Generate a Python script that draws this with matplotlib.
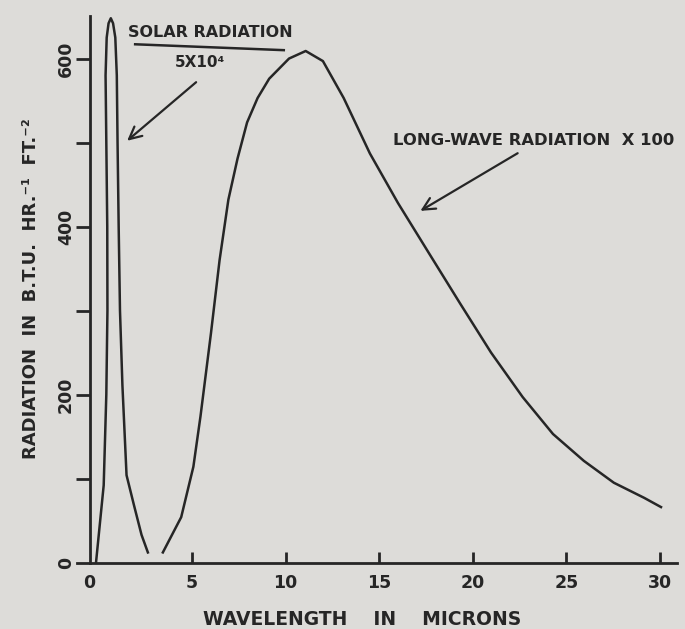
import numpy as np
import matplotlib
matplotlib.use("Agg")
import matplotlib.pyplot as plt
from matplotlib.transforms import ScaledTranslation

# values
solar_x = [-0.13, 0.28, 0.42, 0.48, 0.47, 0.42, 0.38, 0.44, 0.54, 0.66, 0.78, 0.90,
           0.98, 1.02, 1.08, 1.15, 1.28, 1.50, 1.90, 2.30, 2.64]
solar_y = [0, 92, 200, 300, 400, 500, 580, 625, 642, 648, 642, 625,
           580, 500, 400, 300, 211, 104, 68, 33, 12]

long_x = [3.44, 4.42, 5.07, 5.45, 6.01, 6.47, 6.94, 7.43, 7.94, 8.5, 9.12, 10.18, 11.07,
          11.99, 13.1, 14.5, 16.0, 17.69, 19.33, 20.97, 22.66, 24.28, 25.93, 27.53,
          29.15, 30.05]
long_y = [12, 54, 114, 174, 273, 360, 432, 481, 524, 553, 576, 600, 609,
          597, 553, 487, 428, 367, 308, 250, 197, 153, 121, 95, 77, 66]

x_ticks = [0, 5, 10, 15, 20, 25, 30]
y_ticks = [0, 100, 200, 300, 400, 500, 600]
y_labels = ['0', '', '200', '', '400', '', '600']

paper = '#dddcd9'
ink = '#262626'

fig = plt.figure(figsize=(6.85, 6.29), dpi=100)
fig.patch.set_facecolor(paper)
ax = fig.add_axes([0.1123, 0.1057, 0.8759, 0.8693])
ax.set_facecolor('none')

ax.plot(solar_x, solar_y, color=ink, lw=1.8, solid_joinstyle='round')
ax.plot(long_x, long_y, color=ink, lw=1.8, solid_joinstyle='round')

ax.set_xlim(-1.15, 30.9)
ax.set_ylim(0, 651)

for s in ['top', 'right']:
    ax.spines[s].set_visible(False)
ax.spines['left'].set_position(('data', -0.45))
for s in ['left', 'bottom']:
    ax.spines[s].set_linewidth(2)
    ax.spines[s].set_color(ink)

font = dict(family='DejaVu Sans', weight='bold', color=ink)

ax.set_xticks(x_ticks)
ax.set_xticklabels([str(t) for t in x_ticks], fontdict=font, fontsize=12.5)
ax.tick_params(axis='x', direction='in', length=8, width=2, color=ink, pad=8)
ax.xaxis.get_major_ticks()[0].tick1line.set_visible(False)
lbl0 = ax.get_xticklabels()[0]
lbl0.set_transform(lbl0.get_transform() + ScaledTranslation(-9 / 100, 0, fig.dpi_scale_trans))

ax.set_yticks(y_ticks)
ax.set_yticklabels(y_labels, fontdict=font, fontsize=12.5, rotation=90, va='center')
ax.tick_params(axis='y', direction='out', length=10, width=2, color=ink, pad=1)
ax.yaxis.get_major_ticks()[0].tick1line.set_visible(False)

ax.set_xlabel('WAVELENGTH    IN    MICRONS', fontdict=font, fontsize=13.5)
ax.xaxis.set_label_coords(0.475, -0.087)
ax.set_ylabel('RADIATION  IN  B.T.U.  HR.\u207b\u00b9  FT.\u207b\u00b2', fontdict=font, fontsize=13)
ax.yaxis.set_label_coords(-0.062, 0.5)

# annotations
ax.text(1.58, 631, 'SOLAR RADIATION', fontdict=font, fontsize=11.5, ha='left', va='center')
ax.plot([1.96, 9.9], [617, 610], color=ink, lw=1.8)
ax.text(5.43, 595, '5X10\u2074', fontdict=font, fontsize=11, ha='center', va='center')
ax.annotate('', xy=(1.42, 500), xytext=(5.33, 574),
            arrowprops=dict(arrowstyle='->', color=ink, lw=1.6, mutation_scale=22))

ax.text(15.74, 503, 'LONG-WAVE RADIATION  X 100', fontdict=font, fontsize=11.8,
        ha='left', va='center')
ax.annotate('', xy=(17.07, 417), xytext=(22.52, 489),
            arrowprops=dict(arrowstyle='->', color=ink, lw=1.6, mutation_scale=22))

fig.savefig('out.png', dpi=100, facecolor=paper)
